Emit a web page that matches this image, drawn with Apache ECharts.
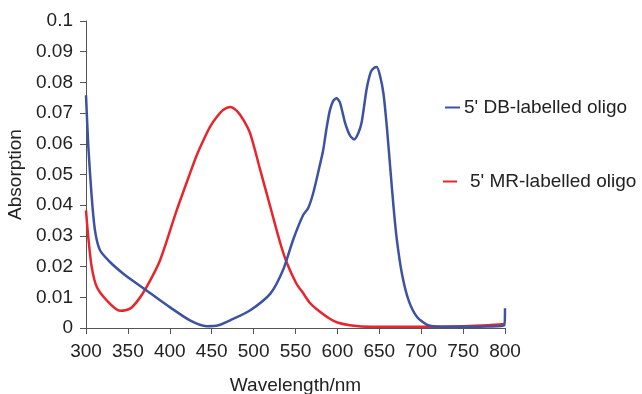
<!DOCTYPE html>
<html>
<head>
<meta charset="utf-8">
<script src="https://cdn.jsdelivr.net/npm/echarts@6/dist/echarts.min.js"></script>
<style>
  html, body { margin: 0; padding: 0; background: #fff; }
  #chart { width: 642px; height: 394px; }
</style>
</head>
<body>
<div id="chart"></div>
<script>
// wavelength (nm) / absorption pairs
const dbWave = [300, 302.8, 306.8, 310.7, 316.7, 328.6, 344.5, 360.5, 376.4, 400, 424, 444, 458, 472, 496, 520, 535, 547, 559, 565, 571, 579, 583, 587, 591, 595, 599, 603, 609, 615, 620, 625, 629, 635, 640, 644, 647, 651, 655, 659, 663, 667, 671, 677, 685, 695, 708, 720, 740, 760, 780, 799, 800];
const dbAbs = [0.0758, 0.059, 0.0427, 0.0318, 0.0253, 0.0215, 0.0177, 0.0145, 0.0114, 0.0068, 0.0025, 0.0006, 0.0009, 0.0025, 0.0058, 0.0112, 0.0188, 0.0286, 0.0367, 0.039, 0.0438, 0.053, 0.0579, 0.065, 0.0709, 0.074, 0.0748, 0.0735, 0.067, 0.0627, 0.0614, 0.0635, 0.0671, 0.078, 0.0835, 0.0848, 0.085, 0.082, 0.0763, 0.0655, 0.0524, 0.0394, 0.0286, 0.0177, 0.009, 0.0036, 0.0009, 0.0005, 0.0004, 0.0004, 0.0005, 0.0008, 0.0064];

const mrWave = [300, 302.7, 306.8, 312.8, 324.7, 340.6, 352.5, 362, 372.4, 388.3, 408.2, 424, 432, 440, 448, 456, 464, 472, 480, 488, 496, 508, 520, 532, 540, 551, 558, 567, 575, 591, 600, 615, 640, 700, 750, 780, 800];
const mrAbs = [0.0383, 0.0296, 0.0199, 0.0134, 0.009, 0.0056, 0.0063, 0.009, 0.0134, 0.022, 0.0383, 0.0503, 0.0562, 0.0611, 0.0655, 0.0687, 0.0711, 0.072, 0.0707, 0.0677, 0.0633, 0.0514, 0.0394, 0.0275, 0.021, 0.0145, 0.0118, 0.0082, 0.0062, 0.003, 0.0018, 0.0009, 0.0004, 0.0004, 0.0006, 0.0009, 0.0013];

const seriesNames = ["5' DB-labelled oligo", "5' MR-labelled oligo"];
const xTitle = "Wavelength/nm";
const yTitle = "Absorption";

const blue = "#3d52a3";
const red = "#e8252c";
const textColor = "#222";
const font = "Liberation Sans, Arial, sans-serif";
const fontSize = 19;

const pairs = (xs, ys) => xs.map((x, i) => [x, ys[i]]);

const chart = echarts.init(document.getElementById("chart"));

const option = {
    animation: false,
    textStyle: { fontFamily: font },
    grid: {
        left: 86,
        right: 137,
        top: 21,
        bottom: 66,
        outerBoundsMode: "none",
    },
    legend: [
        {
            data: [seriesNames[0]],
            left: 440,
            top: 93,
            icon: "rect",
            itemWidth: 15,
            itemHeight: 2,
            itemGap: 0,
            textStyle: { fontSize: fontSize, color: textColor, padding: [0, 0, 0, -1] },
        },
        {
            data: [seriesNames[1]],
            left: 438,
            top: 167,
            icon: "rect",
            itemWidth: 14,
            itemHeight: 2,
            itemGap: 0,
            textStyle: { fontSize: fontSize, color: textColor, padding: [0, 0, 0, 8] },
        },
    ],
    xAxis: {
        type: "value",
        min: 300,
        max: 800,
        interval: 50,
        name: xTitle,
        nameLocation: "middle",
        nameGap: 48,
        nameTextStyle: { fontSize: fontSize, color: textColor },
        axisLine: { lineStyle: { color: "#555", width: 1 } },
        axisTick: { length: 6, lineStyle: { color: "#555" } },
        axisLabel: { fontSize: fontSize, color: textColor, margin: 14 },
        splitLine: { show: false },
    },
    yAxis: {
        type: "value",
        min: 0,
        max: 0.1,
        interval: 0.01,
        name: yTitle,
        nameLocation: "middle",
        nameGap: 59,
        nameTextStyle: { fontSize: fontSize, color: textColor },
        axisLine: { show: true, lineStyle: { color: "#555", width: 1 } },
        axisTick: { show: true, length: 6, lineStyle: { color: "#555" } },
        axisLabel: {
            fontSize: fontSize,
            color: textColor,
            margin: 13,
            formatter: (v) => String(+v.toFixed(2)),
        },
        splitLine: { show: false },
    },
    series: [
        {
            name: seriesNames[0],
            type: "line",
            data: pairs(dbWave, dbAbs),
            smooth: 0.25,
            showSymbol: false,
            lineStyle: { color: blue, width: 2.5 },
            itemStyle: { color: blue },
            z: 3,
        },
        {
            name: seriesNames[1],
            type: "line",
            data: pairs(mrWave, mrAbs),
            smooth: 0.25,
            showSymbol: false,
            lineStyle: { color: red, width: 2.5 },
            itemStyle: { color: red },
            z: 2,
        },
    ],
};

chart.setOption(option);
</script>
</body>
</html>
